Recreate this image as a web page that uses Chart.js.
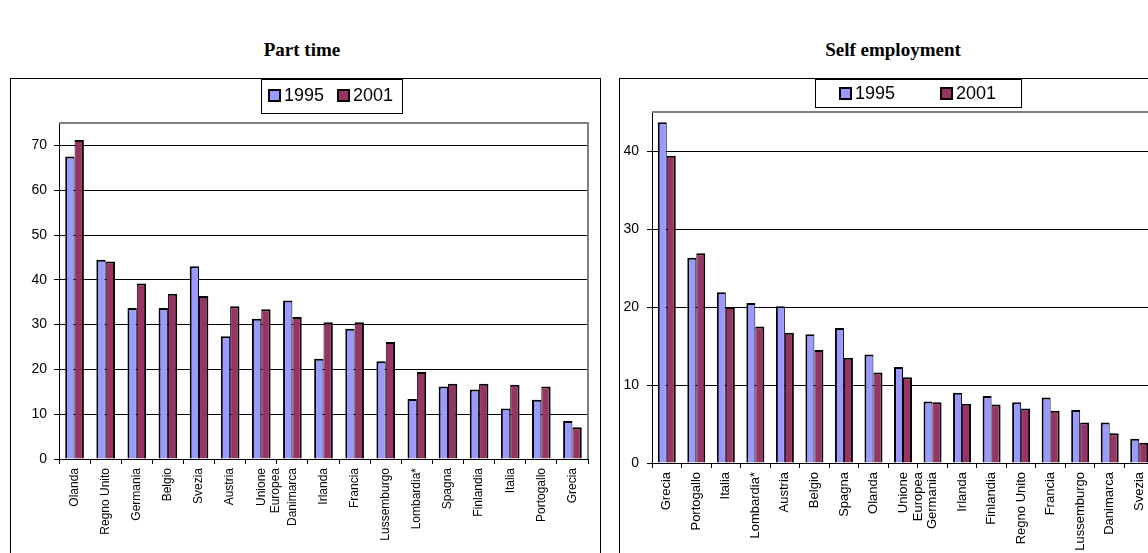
<!DOCTYPE html>
<html>
<head>
<meta charset="utf-8">
<script src="https://cdn.jsdelivr.net/npm/chart.js@4.4.0/dist/chart.umd.min.js"></script>
<style>
  html, body { margin: 0; padding: 0; background: #fff; }
  body { width: 1148px; height: 553px; overflow: hidden; position: relative; }
  .title {
    position: absolute; top: 39px; width: 220px; text-align: center;
    font: bold 19px "Liberation Serif", "DejaVu Serif", serif; color: #000;
  }
  .panel { position: absolute; top: 78px; border: 1px solid #000; background: #fff; }
  .panel canvas { display: block; }
</style>
</head>
<body>
<div class="title" style="left:192px">Part time</div>
<div class="title" style="left:783px">Self employment</div>
<div class="panel" style="left:10px"><canvas id="ptChart" width="589" height="480"></canvas></div>
<div class="panel" style="left:619px"><canvas id="seChart" width="600" height="480"></canvas></div>
<script>
var seriesLabels = ['1995', '2001'];

// Part time
var ptCategories = ['Olanda', 'Regno Unito', 'Germania', 'Belgio', 'Svezia', 'Austria',
  ['Unione', 'Europea'], 'Danimarca', 'Irlanda', 'Francia', 'Lussemburgo', 'Lombardia*',
  'Spagna', 'Finlandia', 'Italia', 'Portogallo', 'Grecia'];
var pt1995 = [67.5, 44.5, 33.7, 33.7, 43.0, 27.4, 31.3, 35.4, 22.4, 29.1, 21.8, 13.4, 16.2, 15.5, 11.3, 13.2, 8.5];
var pt2001 = [71.2, 44.1, 39.2, 36.9, 36.4, 34.1, 33.4, 31.7, 30.5, 30.5, 26.1, 19.4, 16.8, 16.8, 16.6, 16.2, 7.1];

// Self employment
var seCategories = ['Grecia', 'Portogallo', 'Italia', 'Lombardia*', 'Austria', 'Belgio', 'Spagna',
  'Olanda', ['Unione', 'Europea'], 'Germania', 'Irlanda', 'Finlandia', 'Regno Unito', 'Francia',
  'Lussemburgo', 'Danimarca', 'Svezia'];
var se1995 = [43.7, 26.3, 21.9, 20.5, 20.1, 16.5, 17.3, 13.9, 12.3, 7.9, 9.0, 8.6, 7.8, 8.4, 6.8, 5.2, 3.1];
var se2001 = [39.4, 26.9, 20.0, 17.5, 16.7, 14.5, 13.5, 11.6, 11.0, 7.8, 7.6, 7.5, 7.0, 6.7, 5.2, 3.8, 2.6];

var color1995 = '#9999FF';
var color2001 = '#993366';
var fontFamily = '"Liberation Sans", Arial, sans-serif';

/* gray plot-area frame (top + right), Excel style */
var plotFrame = {
  id: 'plotFrame',
  beforeDatasetsDraw: function(chart) {
    var a = chart.chartArea, c = chart.ctx;
    c.save();
    c.strokeStyle = '#808080';
    c.lineWidth = 2;
    c.beginPath();
    c.moveTo(a.left, a.top);
    c.lineTo(a.right, a.top);
    c.lineTo(a.right, a.bottom);
    c.stroke();
    c.restore();
  }
};

/* boxed legend like the Excel one */
var boxLegend = {
  id: 'boxLegend',
  afterDraw: function(chart, args, opts) {
    var c = chart.ctx;
    c.save();
    c.fillStyle = '#fff';
    c.fillRect(opts.x, 0, opts.w, opts.h);
    c.strokeStyle = '#000';
    c.lineWidth = 1;
    c.strokeRect(opts.x + 0.5, 0.5, opts.w - 1, opts.h - 1);
    c.font = '18px ' + fontFamily;
    c.textBaseline = 'middle';
    c.textAlign = 'left';
    var px = opts.x + opts.padX;
    var sq = 13;
    chart.data.datasets.forEach(function(ds) {
      var sy = Math.round(opts.textY - sq / 2);
      c.fillStyle = '#000';
      c.fillRect(px, sy, sq, sq);
      c.fillStyle = ds.backgroundColor;
      c.fillRect(px + 2, sy + 2, sq - 4, sq - 4);
      c.fillStyle = '#000';
      c.fillText(ds.label, px + sq + 3, opts.textY + 1);
      px += sq + 3 + c.measureText(ds.label).width + opts.gap;
    });
    c.restore();
  }
};

function makeChart(id, categories, a, b, cfg) {
  var canvas = document.getElementById(id);
  return new Chart(canvas, {
    type: 'bar',
    data: {
      labels: categories,
      datasets: [
        {
          label: seriesLabels[0],
          data: a,
          backgroundColor: color1995,
          borderColor: '#000',
          borderWidth: { top: 2, left: 2, right: 1, bottom: 0 },
          borderSkipped: 'start',
          categoryPercentage: cfg.catPct,
          barPercentage: 1
        },
        {
          label: seriesLabels[1],
          data: b,
          backgroundColor: color2001,
          borderColor: '#000',
          borderWidth: { top: 2, left: 1, right: 2, bottom: 0 },
          borderSkipped: 'start',
          categoryPercentage: cfg.catPct,
          barPercentage: 1
        }
      ]
    },
    options: {
      responsive: false,
      animation: false,
      layout: { padding: { top: cfg.top, right: cfg.right, bottom: 0, left: 0 } },
      plugins: {
        legend: { display: false },
        tooltip: { enabled: false },
        boxLegend: cfg.legend
      },
      scales: {
        x: {
          grid: { display: true, drawOnChartArea: false, drawTicks: true, tickLength: 5, color: '#000', offset: true },
          border: { color: '#000', width: 1 },
          ticks: {
            minRotation: 90,
            maxRotation: 90,
            autoSkip: false,
            padding: 4,
            color: '#000',
            font: { size: cfg.catFont, family: fontFamily, lineHeight: 1.2 }
          },
          afterFit: function(scale) { scale.height = canvas.height - cfg.bottom; }
        },
        y: {
          min: 0,
          max: cfg.max,
          grid: { color: '#000', lineWidth: 1, tickLength: 5, drawTicks: true },
          border: { color: '#000', width: 1 },
          ticks: {
            stepSize: 10,
            includeBounds: false,
            padding: cfg.yPad,
            color: '#000',
            font: { size: 14, family: fontFamily }
          },
          afterFit: function(scale) { scale.width = cfg.left; }
        }
      }
    },
    plugins: [plotFrame, boxLegend]
  });
}

makeChart('ptChart', ptCategories, pt1995, pt2001, {
  catPct: 0.6, max: 75, top: 44, bottom: 380, left: 48, right: 12, yPad: 7, catFont: 12,
  legend: { x: 250, w: 142, h: 35, padX: 7, gap: 13, textY: 16 }
});

makeChart('seChart', seCategories, se1995, se2001, {
  catPct: 0.61, max: 45, top: 33, bottom: 384, left: 32, right: 66, yPad: 8, catFont: 13,
  legend: { x: 195, w: 207, h: 29, padX: 24, gap: 45, textY: 14 }
});
</script>
</body>
</html>
